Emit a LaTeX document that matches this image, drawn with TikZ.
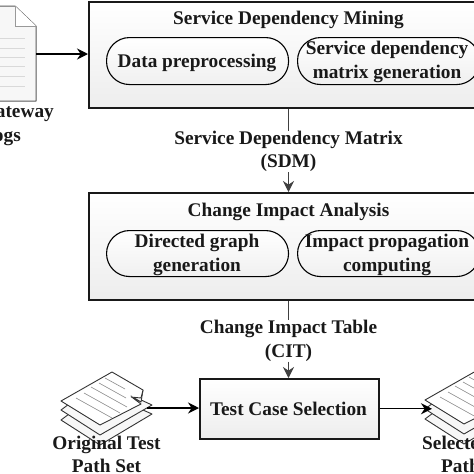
\documentclass[tikz,border=0pt]{standalone}
\usepackage{fontspec}
\setmainfont{Liberation Serif}
\usetikzlibrary{arrows.meta,calc}
\definecolor{edgegrey}{gray}{0.25}
\tikzset{
  pane/.style={draw=black!90,line width=1.5pt,top color=white,bottom color=black!7,rectangle,inner sep=0pt,anchor=north west},
  pill/.style={draw=black,line width=1.1pt,top color=white,bottom color=black!6,rectangle,rounded corners=23pt,inner sep=0pt,anchor=north west},
  lab/.style={font=\fontsize{19.3}{23.3}\selectfont\bfseries,align=center,inner sep=0pt,text=black!90},
  flow/.style={line width=1.3pt,-{Stealth[length=11pt,width=11pt]}},
  grayflow/.style={line width=1.1pt,draw=edgegrey,-{Stealth[length=11pt,width=11pt]}},
  grayline/.style={line width=1.1pt,draw=edgegrey},
  sheet/.style={draw=black!80,line width=0.9pt,fill=white,line join=round},
  rule/.style={draw=black!45,line width=0.6pt},
  ruleb/.style={draw=black!15,line width=0.7pt}
}
\newcommand{\stackdoc}[2]{%
  \begin{scope}[shift={(#1,#2)}]
    \draw[sheet,fill=black!3] (0,19) -- (39,44) -- (91,13) -- (39,-10) -- cycle;
    \draw[sheet,fill=black!3] (0,9) -- (39,34) -- (91,4) -- (39,-20) -- cycle;
    \draw[sheet] (0,0) -- (51,-29) -- (82,-11) -- (80,1) -- (70,-5) -- (72,-3) -- (80,3) -- (39,24) -- cycle;
    \draw[sheet] (70,-4) -- (80,-3) -- (82,-11);
    \draw[rule] (15,-3) -- (51,17);
    \draw[rule] (23,-8) -- (59,12);
    \draw[rule] (30,-14) -- (66,6);
    \draw[rule] (38,-18) -- (65,-3);
    \draw[rule] (44,-23) -- (64,-12);
  \end{scope}}
\begin{document}
\begin{tikzpicture}[x=1pt,y=-1pt]
\useasboundingbox (0,0) rectangle (474,474);
\clip (0,0) rectangle (474,474);
\fill[white] (0,0) rectangle (474,474);

% panes
\node[pane,minimum width=400pt,minimum height=106pt] (mining) at (88,1) {};
\node[pane,minimum width=400pt,minimum height=107pt] (impact) at (88,192) {};
\node[pane,minimum width=179pt,minimum height=60pt] (select) at (199,378) {};

% pills
\node[pill,minimum width=182pt,minimum height=47pt] (prep) at (106,37) {};
\node[pill,minimum width=182pt,minimum height=47pt] (matgen) at (297,37) {};
\node[pill,minimum width=182pt,minimum height=46pt] (graph) at (106,230) {};
\node[pill,minimum width=182pt,minimum height=46pt] (prop) at (297,230) {};

% log document
\draw[draw=black!65,line width=1pt,fill=black!3,line join=round] (-8,6) -- (15,6) -- (36,26) -- (36,101) -- (-8,101) -- cycle;
\draw[draw=black!40,line width=0.8pt,fill=white] (15,6) -- (15,26) -- (36,26);
\foreach \yy in {38,48,57,66,76,86}
  \draw[ruleb] (0,\yy) -- (25,\yy);
\coordinate (logs) at (36,54);

% stacked documents
\stackdoc{61}{401}
\coordinate (orig) at (147,408);
\stackdoc{425}{400}
\coordinate (sel) at (432,408);

% titles and labels
\node[lab] (t1) at (288.5,20) {Service Dependency Mining};
\node[lab] (t2) at (288.5,212) {Change Impact Analysis};
\node[lab] (t3) at (288.5,409) {Test Case Selection};
\node[lab] (p1) at (197,62.5) {Data preprocessing};
\node[lab] (p2) at (387,62) {Service dependency\\matrix generation};
\node[lab] (p3) at (197,255) {Directed graph\\generation};
\node[lab] (p4) at (387,255) {Impact propagation\\computing};
\node[lab] (sdm) at (288.5,151.5) {Service Dependency Matrix\\(SDM)};
\node[lab] (cit) at (288.5,341) {Change Impact Table\\(CIT)};
\node[lab,anchor=east] (gw) at (54,113) {Gateway};
\node[lab,anchor=east] (lg) at (21,137) {Logs};
\node[lab] (ot) at (106.5,454.5) {Original Test\\Path Set};
\node[lab,anchor=west] (st) at (422,443) {Selected Test};
\node[lab,anchor=west] (ps) at (441,466) {Path Set};

% connectors
\draw[flow] (logs) -- (mining.west |- logs);
\draw[grayline] (mining.south -| sdm) -- (sdm.north);
\draw[grayflow] (sdm.south) -- (impact.north -| sdm);
\draw[grayline] (impact.south -| cit) -- (cit.north);
\draw[grayflow] (cit.south) -- (select.north -| cit);
\draw[flow] (orig) -- (orig -| select.west);
\draw[flow] (select.east) -- (select.east -| sel);
\end{tikzpicture}
\end{document}
